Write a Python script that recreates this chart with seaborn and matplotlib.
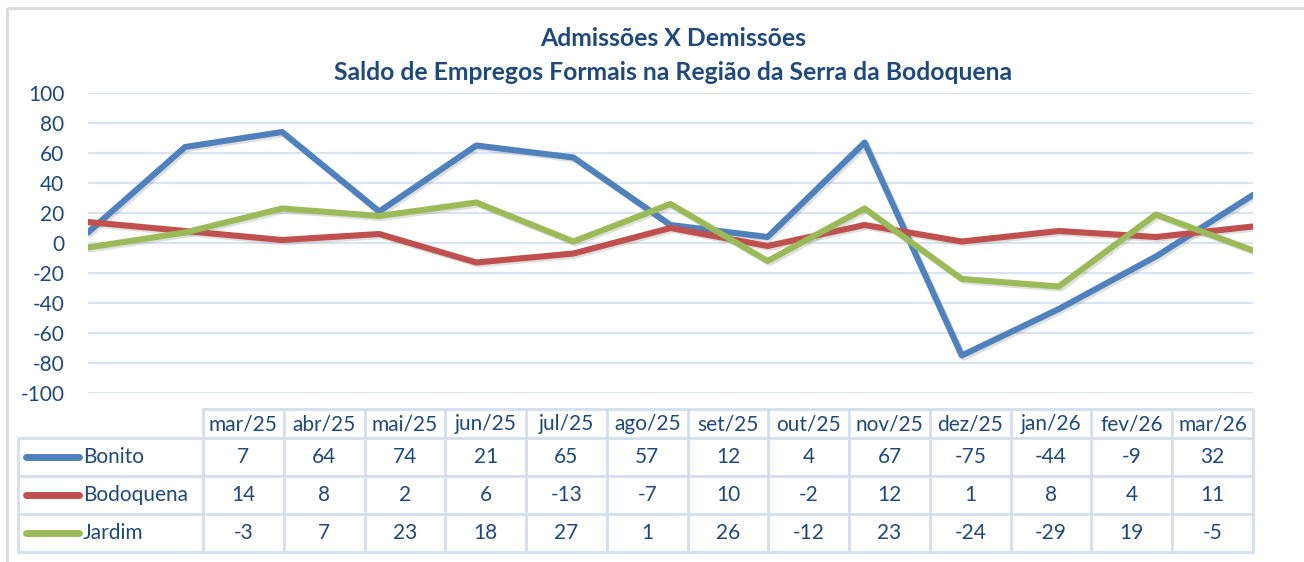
import numpy as np
import pandas as pd
import matplotlib.pyplot as plt
import matplotlib.patheffects as pe
import seaborn as sns

meses = ['mar/25', 'abr/25', 'mai/25', 'jun/25', 'jul/25', 'ago/25', 'set/25',
         'out/25', 'nov/25', 'dez/25', 'jan/26', 'fev/26', 'mar/26']
bonito = [7, 64, 74, 21, 65, 57, 12, 4, 67, -75, -44, -9, 32]
bodoquena = [14, 8, 2, 6, -13, -7, 10, -2, 12, 1, 8, 4, 11]
jardim = [-3, 7, 23, 18, 27, 1, 26, -12, 23, -24, -29, 19, -5]
cidades = ['Bonito', 'Bodoquena', 'Jardim']
cores = ['#4F81BD', '#C0504D', '#9BBB59']

AZUL = '#1F497D'
GRADE = '#D9E3F1'

df = pd.DataFrame({'Bonito': bonito, 'Bodoquena': bodoquena, 'Jardim': jardim})
df['pos'] = np.arange(len(meses))
longo = df.melt(id_vars='pos', var_name='cidade', value_name='saldo')

sns.set_style('white')
plt.rcParams['font.family'] = ['Lato', 'DejaVu Sans']
plt.rcParams['axes.unicode_minus'] = False

W, H = 1304, 562
fig = plt.figure(figsize=(W / 100, H / 100), dpi=100)
fs = 15

# eixo do gráfico (px -> fração da figura)
x0, x1, y0, y1 = 88, 1253, 93, 393
ax = fig.add_axes([x0 / W, 1 - y1 / H, (x1 - x0) / W, (y1 - y0) / H])
sombra = [pe.SimpleLineShadow(offset=(1.5, -1.5), alpha=0.25, shadow_color='gray'),
          pe.Normal()]
sns.lineplot(data=longo, x='pos', y='saldo', hue='cidade', hue_order=cidades,
             palette=cores, linewidth=4.4, legend=False, ax=ax,
             path_effects=sombra)
ax.set_xlim(0, len(meses) - 1)
ax.set_ylim(-100, 100)
ax.set_yticks(np.arange(-100, 101, 20))
ax.set_xticks([])
ax.set_xlabel('')
ax.set_ylabel('')
ax.tick_params(axis='y', length=0, labelsize=fs, labelcolor=AZUL, pad=17)
ax.grid(axis='y', color=GRADE, linewidth=1.5)
ax.set_axisbelow(True)
for s in ax.spines.values():
    s.set_visible(False)

# camada em pixels para títulos e moldura
ov = fig.add_axes([0, 0, 1, 1], zorder=-1)
ov.set_xlim(0, W)
ov.set_ylim(H, 0)
ov.axis('off')
fig.patch.set_facecolor('white')

ov.add_patch(plt.Rectangle((7, 8), W + 10, H + 10, fill=False,
                           edgecolor='#D9D9D9', linewidth=2))

ov.text(673, 38, 'Admissões X Demissões', ha='center', va='center',
        fontsize=17.8, fontweight='bold', color=AZUL)
ov.text(673, 72, 'Saldo de Empregos Formais na Região da Serra da Bodoquena',
        ha='center', va='center', fontsize=17.8, fontweight='bold', color=AZUL)

# tabela de dados
ov2 = fig.add_axes([0, 0, 1, 1], zorder=3)
ov2.set_xlim(0, W)
ov2.set_ylim(H, 0)
ov2.axis('off')
tx0, tx1 = 203, 1253
lx0 = 18
linhas_y = [409, 438, 476, 514, 552]
cw = (tx1 - tx0) / len(meses)
bc = '#D3DFEF'
lw = 2
ov2.plot([tx0, tx1], [linhas_y[0]] * 2, color=bc, lw=lw)
for yy in linhas_y[1:]:
    ov2.plot([lx0, tx1], [yy, yy], color=bc, lw=lw)
ov2.plot([lx0, lx0], [linhas_y[1], linhas_y[-1]], color=bc, lw=lw)
for i in range(len(meses) + 1):
    ov2.plot([tx0 + i * cw] * 2, [linhas_y[0], linhas_y[-1]], color=bc, lw=lw)

for i, m in enumerate(meses):
    ov2.text(tx0 + (i + 0.5) * cw, (linhas_y[0] + linhas_y[1]) / 2 + 1, m,
             ha='center', va='center', fontsize=fs, color=AZUL)

serie = [bonito, bodoquena, jardim]
for r, (nome, cor, vals) in enumerate(zip(cidades, cores, serie)):
    yc = (linhas_y[r + 1] + linhas_y[r + 2]) / 2
    ov2.plot([26, 79], [yc, yc], color=cor, lw=5, solid_capstyle='round')
    ov2.text(83, yc, nome, ha='left', va='center', fontsize=fs, color=AZUL)
    for i, v in enumerate(vals):
        ov2.text(tx0 + (i + 0.5) * cw, yc, str(v), ha='center', va='center',
                 fontsize=fs, color=AZUL)

fig.savefig('out.png', dpi=100, facecolor='white')
